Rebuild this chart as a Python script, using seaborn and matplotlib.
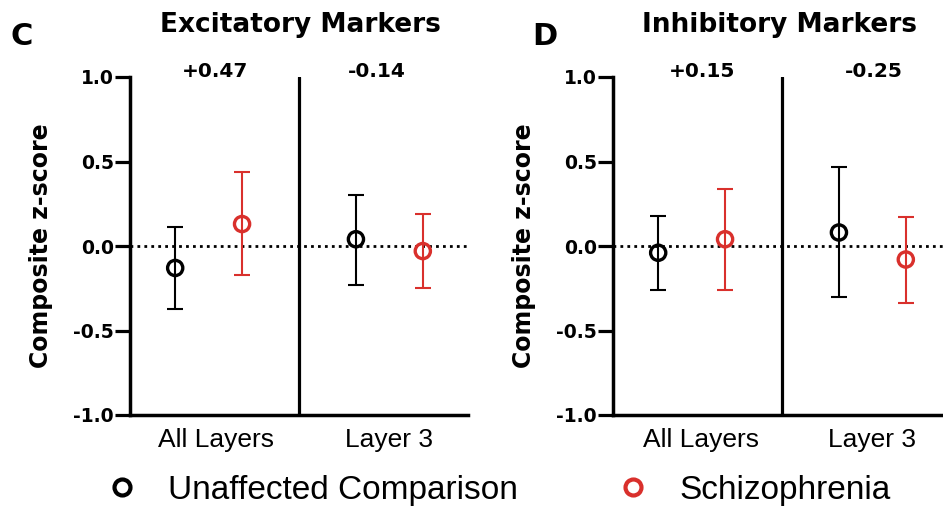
import numpy as np
import pandas as pd
import matplotlib
matplotlib.use("Agg")
import matplotlib.pyplot as plt
import seaborn as sns
from matplotlib.lines import Line2D

# ---------------- data ----------------
groups = ["All Layers", "Layer 3"]
statuses = ["Unaffected Comparison", "Schizophrenia"]

exc_unaff_mean = [-0.13, 0.04]
exc_unaff_lo = [-0.37, -0.23]
exc_unaff_hi = [0.11, 0.30]
exc_scz_mean = [0.13, -0.03]
exc_scz_lo = [-0.17, -0.25]
exc_scz_hi = [0.44, 0.19]

inh_unaff_mean = [-0.04, 0.08]
inh_unaff_lo = [-0.26, -0.30]
inh_unaff_hi = [0.18, 0.47]
inh_scz_mean = [0.04, -0.08]
inh_scz_lo = [-0.26, -0.34]
inh_scz_hi = [0.34, 0.17]

exc_diff = ["+0.47", "-0.14"]
inh_diff = ["+0.15", "-0.25"]

panel_titles = ["Excitatory Markers", "Inhibitory Markers"]
panel_letters = ["C", "D"]
y_ticks = [-1.0, -0.5, 0.0, 0.5, 1.0]

# ---------------- styling ----------------
sns.set_theme(style="ticks")
plt.rcParams["font.family"] = ["Liberation Sans", "DejaVu Sans"]
for k in ["text.color", "axes.labelcolor", "xtick.color", "ytick.color", "axes.edgecolor"]:
    plt.rcParams[k] = "black"

BOLD = ["DejaVu Sans"]
RED = "#d9302c"
palette = {"Unaffected Comparison": "black", "Schizophrenia": RED}
offsets = {"Unaffected Comparison": -0.185, "Schizophrenia": 0.185}


def make_df(um, ul, uh, sm, sl, sh):
    rows = []
    for i, g in enumerate(groups):
        rows.append(dict(group=g, gi=i, status=statuses[0], mean=um[i], lo=ul[i], hi=uh[i]))
        rows.append(dict(group=g, gi=i, status=statuses[1], mean=sm[i], lo=sl[i], hi=sh[i]))
    df = pd.DataFrame(rows)
    df["x"] = df["gi"] + df["status"].map(offsets)
    return df


df_exc = make_df(exc_unaff_mean, exc_unaff_lo, exc_unaff_hi, exc_scz_mean, exc_scz_lo, exc_scz_hi)
df_inh = make_df(inh_unaff_mean, inh_unaff_lo, inh_unaff_hi, inh_scz_mean, inh_scz_lo, inh_scz_hi)

fig = plt.figure(figsize=(9.43, 5.12), dpi=100)
W, H = 943, 512
axL = fig.add_axes([130 / W, 1 - 415 / H, 338 / W, 338 / H])
axR = fig.add_axes([613 / W, 1 - 415 / H, 338 / W, 338 / H])

XLIM = (-0.435, 1.435)
ann_x = {0: [0.035, 0.932], 1: [0.058, 1.009]}
tick_x = {0: [0.04, 1.0], 1: [0.052, 1.0]}

for pi, (ax, df, diffs) in enumerate([(axL, df_exc, exc_diff), (axR, df_inh, inh_diff)]):
    ax.axhline(0, color="black", linestyle=(0, (1, 1.5)), linewidth=2.0, zorder=1)
    ax.axvline(0.5, color="black", linewidth=2.3, zorder=1)
    for st in statuses:
        sub = df[df["status"] == st]
        ax.errorbar(sub["x"], sub["mean"],
                    yerr=[sub["mean"] - sub["lo"], sub["hi"] - sub["mean"]],
                    fmt="none", ecolor=palette[st], elinewidth=1.5,
                    capsize=6, capthick=1.5, zorder=2)
    sns.scatterplot(data=df, x="x", y="mean", hue="status", palette=palette,
                    ax=ax, s=120, marker="o", linewidth=2.4, legend=False, zorder=3)
    coll = ax.collections[-1]
    coll.set_facecolor("none")
    coll.set_edgecolor([palette[s] for s in df["status"]])

    ax.set_xlim(*XLIM)
    ax.set_ylim(-1.0, 1.0)
    ax.set_yticks(y_ticks)
    ax.set_yticklabels([f"{t:.1f}" for t in y_ticks], fontsize=13.5,
                       fontweight="bold", family=BOLD)
    ax.set_xticks(tick_x[pi])
    ax.set_xticklabels(groups, fontsize=19)
    ax.tick_params(axis="x", length=0, pad=9)
    ax.tick_params(axis="y", length=10.5, width=2.3, pad=1.0)
    ax.set_xlabel("")
    ax.set_ylabel("Composite z-score", fontsize=17, fontweight="bold", family=BOLD)
    ax.yaxis.set_label_coords(-0.229, 0.5)
    for side in ["top", "right"]:
        ax.spines[side].set_visible(False)
    for side in ["left", "bottom"]:
        ax.spines[side].set_linewidth(2.5)
    ax.patch.set_alpha(0)
    for i, d in enumerate(diffs):
        ax.text(ann_x[pi][i], 1.033, d, ha="center", va="center",
                fontsize=14.5, fontweight="bold", family=BOLD, clip_on=False)

# titles and panel letters
fig.text(300 / W, 1 - 32 / H, panel_titles[0], ha="center", va="baseline",
         fontsize=19, fontweight="bold", family=BOLD)
fig.text(780 / W, 1 - 32 / H, panel_titles[1], ha="center", va="baseline",
         fontsize=19, fontweight="bold", family=BOLD)
fig.text(11 / W, 1 - 45 / H, panel_letters[0], ha="left", va="baseline",
         fontsize=22, fontweight="bold", family=BOLD)
fig.text(532 / W, 1 - 45 / H, panel_letters[1], ha="left", va="baseline",
         fontsize=22, fontweight="bold", family=BOLD)

# legend
handles = [Line2D([], [], linestyle="none", marker="o", markersize=11.5,
                  markerfacecolor="none", markeredgecolor=palette[s],
                  markeredgewidth=3.0) for s in statuses]
fig.legend(handles, statuses, loc="center left",
           bbox_to_anchor=(105 / W, 1 - 490 / H), ncol=2, frameon=False,
           fontsize=24, handlelength=1.0, handletextpad=0.9,
           columnspacing=2.95, borderpad=0, borderaxespad=0)

fig.savefig("out.png", dpi=100)
